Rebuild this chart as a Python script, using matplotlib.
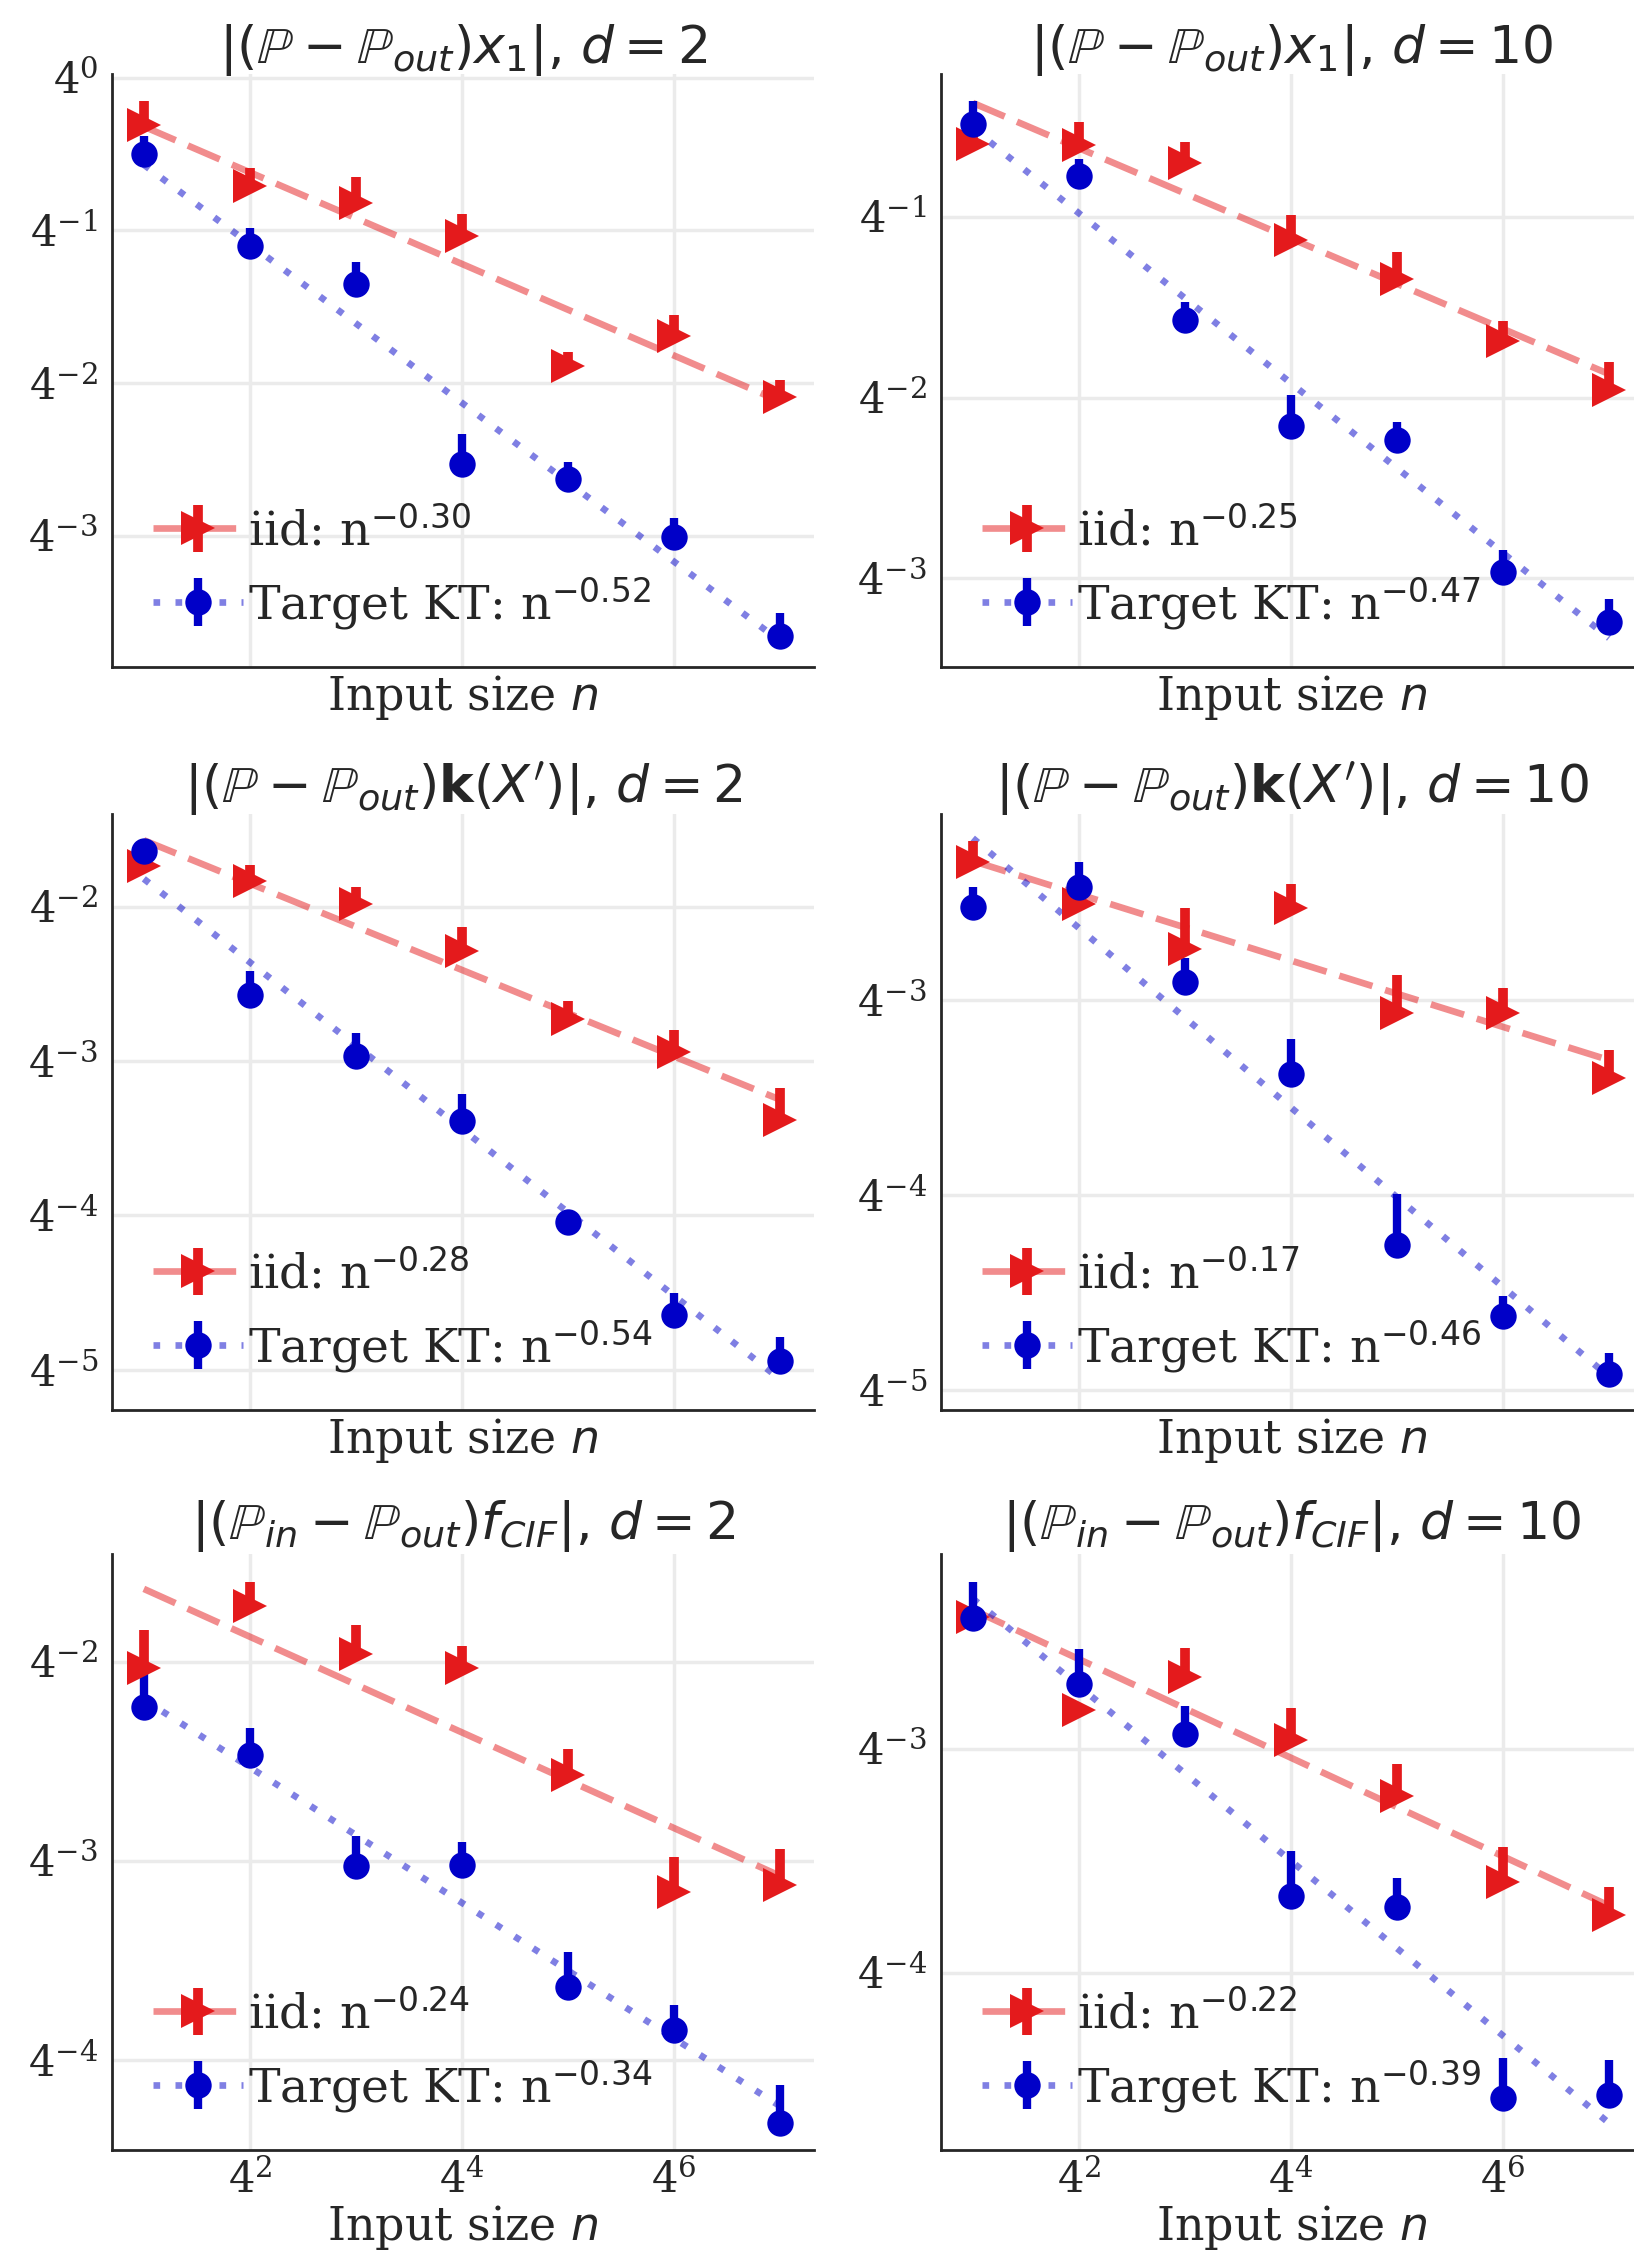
import numpy as np
import matplotlib
matplotlib.use("Agg")
import matplotlib.pyplot as plt
from matplotlib.ticker import FixedLocator, LogLocator, NullLocator

# input sizes n = 4^1 ... 4^7 (stored as log4 exponents)
n_log4 = [1, 2, 3, 4, 5, 6, 7]

titles = [
    r"$|(\mathbb{P} - \mathbb{P}_{out})x_1|$, $d = 2$",
    r"$|(\mathbb{P} - \mathbb{P}_{out})x_1|$, $d = 10$",
    r"$|(\mathbb{P} - \mathbb{P}_{out})\mathbf{k}(X^{\prime})|$, $d = 2$",
    r"$|(\mathbb{P} - \mathbb{P}_{out})\mathbf{k}(X^{\prime})|$, $d = 10$",
    r"$|(\mathbb{P}_{in} - \mathbb{P}_{out})f_{CIF}|$, $d = 2$",
    r"$|(\mathbb{P}_{in} - \mathbb{P}_{out})f_{CIF}|$, $d = 10$",
]

# mean errors, log4 of the value
iid_log4 = [
    [-0.31, -0.71, -0.82, -1.04, -1.89, -1.69, -2.09],
    [-0.595, -0.60, -0.70, -1.127, -1.344, -1.686, -1.957],
    [-1.74, -1.835, -1.98, -2.285, -2.73, -2.94, -3.38],
    [-2.293, -2.506, -2.736, -2.53, -3.068, -3.068, -3.40],
    [-2.03, -1.72, -1.962, -2.03, -2.571, -3.155, -3.12],
    [-2.413, -2.826, -2.68, -2.962, -3.21, -3.594, -3.74],
]
kt_log4 = [
    [-0.50, -1.10, -1.35, -2.53, -2.63, -3.01, -3.66],
    [-0.489, -0.775, -1.57, -2.155, -2.235, -2.965, -3.24],
    [-1.64, -2.575, -2.97, -3.39, -4.04, -4.645, -4.94],
    [-2.525, -2.42, -2.905, -3.378, -4.254, -4.62, -4.915],
    [-2.228, -2.47, -3.025, -3.018, -3.63, -3.848, -4.315],
    [-2.415, -2.709, -2.935, -3.655, -3.707, -4.558, -4.546],
]
# upper error bar length, in log4 units
iid_err = [
    [0.156, 0.12, 0.171, 0.15, 0.096, 0.135, 0.108],
    [0.05, 0.127, 0.114, 0.137, 0.152, 0.109, 0.152],
    [0.05, 0.107, 0.107, 0.153, 0.116, 0.138, 0.208],
    [0.107, 0.08, 0.206, 0.126, 0.199, 0.131, 0.145],
    [0.19, 0.122, 0.145, 0.107, 0.135, 0.173, 0.178],
    [0.05, 0.02, 0.131, 0.142, 0.142, 0.158, 0.124],
]
kt_err = [
    [0.12, 0.114, 0.144, 0.198, 0.114, 0.129, 0.156],
    [0.127, 0.096, 0.101, 0.172, 0.101, 0.122, 0.127],
    [0.03, 0.159, 0.153, 0.174, 0.02, 0.144, 0.153],
    [0.104, 0.126, 0.121, 0.177, 0.259, 0.104, 0.109],
    [0.178, 0.135, 0.152, 0.112, 0.173, 0.127, 0.19],
    [0.16, 0.153, 0.126, 0.20, 0.129, 0.178, 0.158],
]

# fitted rates (legend) and fit value at n = 4^4 (log4)
iid_rate = [-0.30, -0.25, -0.28, -0.17, -0.24, -0.22]
kt_rate = [-0.52, -0.47, -0.54, -0.46, -0.34, -0.39]
iid_fit_mid = [-1.22, -1.12, -2.41, -2.797, -2.355, -3.04]
kt_fit_mid = [-2.13, -1.92, -3.44, -3.55, -3.21, -3.50]

ylims_log4 = [(-3.86, 0.024), (-3.49, -0.21), (-5.26, -1.40),
              (-5.10, -2.046), (-4.45, -1.46), (-4.79, -2.131)]
xlim_log4 = (0.70, 7.32)

red = "#e41a1c"
blue = "#0000c8"
dark = "#262626"

plt.rcParams.update({
    "font.family": "DejaVu Serif",
    "mathtext.fontset": "dejavusans",
    "text.color": dark,
    "axes.labelcolor": dark,
    "xtick.color": dark,
    "ytick.color": dark,
    "axes.edgecolor": dark,
    "axes.linewidth": 2.0,
    "grid.color": "#ebebeb",
    "grid.linewidth": 2.5,
})

fig = plt.figure(figsize=(16.34, 22.53), dpi=100)
W, H = 1634.0, 2253.0
lefts = [112 / W, 941 / W]
bottoms = [1 - 667 / H, 1 - 1410 / H, 1 - 2150 / H]
heights = [593 / H, 596 / H, 596 / H]
width = 702 / W

n = 4.0 ** np.array(n_log4)
zeros = np.zeros(len(n))

for i in range(6):
    r, c = divmod(i, 2)
    ax = fig.add_axes([lefts[c], bottoms[r], width, heights[r]])
    ax.set_xscale("log", base=4)
    ax.set_yscale("log", base=4)

    # fit lines
    fit_iid = 4.0 ** (iid_fit_mid[i] + iid_rate[i] * (np.array(n_log4) - 4))
    fit_kt = 4.0 ** (kt_fit_mid[i] + kt_rate[i] * (np.array(n_log4) - 4))
    line_iid, = ax.plot(n, fit_iid, color=red, alpha=0.5, lw=4.8,
                        ls=(0, (5.2, 2.0)), zorder=1.5)
    line_kt, = ax.plot(n, fit_kt, color=blue, alpha=0.5, lw=4.8,
                       ls=(0, (1, 2.3)), zorder=1.5)

    # means with one-sided error bars
    y_iid = 4.0 ** np.array(iid_log4[i])
    up_iid = 4.0 ** (np.array(iid_log4[i]) + np.array(iid_err[i])) - y_iid
    eb_iid = ax.errorbar(n, y_iid, yerr=[zeros, up_iid], fmt=">", color=red,
                         ms=24, mew=0, elinewidth=7, capsize=0)
    y_kt = 4.0 ** np.array(kt_log4[i])
    up_kt = 4.0 ** (np.array(kt_log4[i]) + np.array(kt_err[i])) - y_kt
    eb_kt = ax.errorbar(n, y_kt, yerr=[zeros, up_kt], fmt="o", color=blue,
                        ms=19, mew=0, elinewidth=6, capsize=0)

    ax.set_xlim(4.0 ** xlim_log4[0], 4.0 ** xlim_log4[1])
    ax.set_ylim(4.0 ** ylims_log4[i][0], 4.0 ** ylims_log4[i][1])
    ax.xaxis.set_major_locator(FixedLocator([4.0 ** 2, 4.0 ** 4, 4.0 ** 6]))
    ax.xaxis.set_minor_locator(NullLocator())
    ax.yaxis.set_major_locator(LogLocator(base=4))
    ax.yaxis.set_minor_locator(NullLocator())
    ax.tick_params(axis="both", length=0, labelsize=30)
    ax.tick_params(axis="y", pad=10)
    ax.tick_params(axis="x", pad=7)
    if r < 2:
        ax.tick_params(axis="x", labelbottom=False)

    ax.grid(True, which="major")
    ax.set_axisbelow(True)
    ax.spines["top"].set_visible(False)
    ax.spines["right"].set_visible(False)

    ax.set_xlabel("Input size $n$", fontsize=33, labelpad=4 if r < 2 else 1)
    ax.set_title(titles[i], fontsize=37.5, pad=8, family="DejaVu Sans")

    ax.legend([(line_iid, eb_iid), (line_kt, eb_kt)],
              [f"iid: n$^{{{iid_rate[i]:.2f}}}$",
               f"Target KT: n$^{{{kt_rate[i]:.2f}}}$"],
              loc="lower left", bbox_to_anchor=(0.008, 0.0),
              fontsize=34, frameon=False,
              handlelength=1.9, handletextpad=0.12,
              labelspacing=0.42, borderaxespad=0.35)

fig.savefig("out.png", dpi=100)
